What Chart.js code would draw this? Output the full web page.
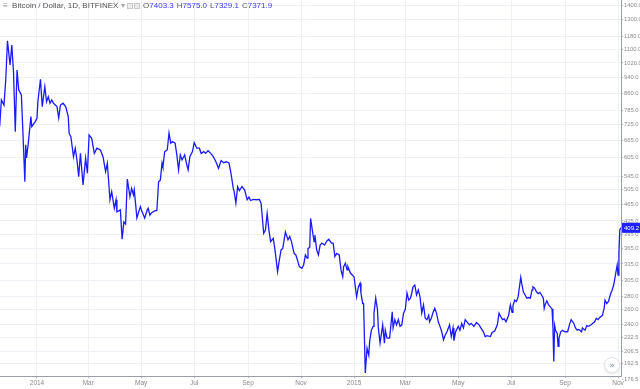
<!DOCTYPE html>
<html lang="en">
<head>
<meta charset="UTF-8" />
<title>Bitcoin / Dollar, 1D, BITFINEX</title>
<script src="https://cdn.jsdelivr.net/npm/chart.js"></script>
<style>
  * { box-sizing: border-box; margin: 0; padding: 0; }
  body { background: #fff; }
  .wrap { position: relative; width: 640px; height: 389px; }
  .legend {
    position: absolute; left: 3px; top: 1px;
    font: 8px "Liberation Sans", Arial, sans-serif;
    color: #555; white-space: nowrap;
  }
  .legend .num { color: #3a3aff; margin-right: 3px; }
  .legend .box {
    display: inline-block; width: 6px; height: 6px;
    border: 1px solid #c8c8c8; background: #ececec;
    vertical-align: -1px; margin-right: 1px;
  }
  .scroll-btn {
    position: absolute; left: 604px; top: 357px;
    width: 16px; height: 16px; border-radius: 50%;
    background: #fff; border: 1px solid #e3e3e3;
    box-shadow: 0 1px 2px rgba(0,0,0,0.12);
    font: 9px "DejaVu Sans", sans-serif; color: #7a86a0;
    text-align: center; line-height: 14px;
  }
</style>
</head>
<body>
<div class="wrap">
  <canvas id="chart" width="640" height="389"></canvas>
  <div class="legend">
    <span style="color:#999">≡</span>&nbsp; Bitcoin / Dollar, 1D, BITFINEX <span style="color:#aaa">▾</span>
    <span class="box"></span><span class="box"></span>
    O<span class="num">7403.3</span>H<span class="num">7575.0</span>L<span class="num">7329.1</span>C<span class="num">7371.9</span>
  </div>
  <div class="scroll-btn">»</div>
</div>

<script>
  // days since 2014-01-01, daily close (USD)
  const days = [
    -43,-41,-38,-36,-34,-31,-29,-27,-25,-23,-21,-18,-16,-14,-13,-12,-10,-7,-6,-2,
    0,1,4,6,9,11,13,15,17,19,23,25,27,30,33,36,37,39,42,44,46,48,50,53,56,58,60,63,66,69,
    73,76,79,81,84,86,89,91,92,96,98,100,102,104,
    107,109,111,112,115,119,121,124,127,128,130,132,136,138,140,142,144,145,147,150,
    152,154,156,159,161,163,165,167,170,172,174,176,179,181,184,187,189,192,194,197,
    200,203,206,209,212,215,218,221,223,226,227,229,231,233,236,239,242,244,246,249,253,
    256,258,261,263,265,267,269,272,274,277,279,281,283,286,289,291,293,296,298,300,
    302,305,307,309,311,312,314,315,317,319,320,322,324,326,328,331,334,336,339,341,
    343,345,348,350,352,353,355,357,358,361,363,365,368,370,372,373,375,376,378,380,
    382,383,385,387,388,390,392,393,
    395,398,400,401,403,406,409,410,412,414,416,418,420,422,424,426,428,430,431,433,
    435,437,439,441,443,445,447,449,451,452,454,456,458,460,462,464,466,468,470,472,
    475,477,479,480,482,485,487,489,491,493,495,498,500,503,506,509,511,514,516,518,
    522,524,527,530,532,534,536,538,540,543,545,547,
    548,550,552,554,555,557,558,560,562,564,566,568,570,571,573,575,577,579,581,583,
    584,585,587,589,591,593,594,595,596,597,599,600,601,603,605,608,611,613,615,618,
    620,622,624,627,628,631,633,635,638,640,642,644,646,648,651,653,654,656,658,660,
    662,664,666,668,669,670,671,672
  ];
  const closes = [
    717,831,808,928,1154,1009,1127,965,697,981,878,854,678,528,648,603,655,758,717,737,
    752,823,932,801,894,823,846,816,831,816,801,752,808,816,801,758,691,678,607,636,596,543,618,519,602,554,684,672,618,636,
    630,607,559,585,478,500,456,478,447,452,384,423,418,536,
    486,509,491,505,432,460,447,432,452,456,439,445,450,450,528,533,586,574,624,630,
    692,654,660,654,613,564,613,596,613,586,564,607,624,656,636,636,618,624,618,627,
    618,607,590,569,594,587,590,586,559,509,500,469,514,503,514,505,478,485,476,479,478,
    479,469,397,404,443,404,379,386,362,321,342,362,365,400,383,390,379,355,352,342,
    330,327,333,352,346,365,367,431,404,379,393,362,352,372,376,372,381,384,376,376,
    349,355,352,324,312,330,336,324,330,318,315,312,279,295,301,285,269,269,183,210,
    202,218,232,237,255,277,260,235,
    216,239,216,232,222,222,257,235,246,239,246,237,239,255,260,285,274,277,282,295,
    298,282,290,279,255,267,248,246,252,243,248,256,262,255,243,237,230,220,226,230,
    239,224,235,219,230,237,232,241,235,246,243,239,241,237,242,239,235,230,224,225,
    224,229,231,239,255,250,246,247,243,252,267,256,
    266,274,272,279,290,311,301,287,282,277,278,277,290,295,293,287,284,286,282,277,
    262,267,273,267,264,261,237,195,238,232,228,212,222,230,232,230,230,239,246,241,
    235,232,233,230,235,232,238,237,239,241,243,248,246,249,252,262,274,269,272,282,
    289,298,315,333,315,355,404,409.2
  ];

  const monthTickDays = [0, 59, 120, 181, 243, 304, 365, 424, 485, 546, 608, 669];
  const monthTickLabels = ['2014', 'Mar', 'May', 'Jul', 'Sep', 'Nov', '2015', 'Mar', 'May', 'Jul', 'Sep', 'Nov'];
  const priceTicks = [1400, 1300, 1180, 1100, 1020, 940, 860, 785, 725, 665, 605, 545, 505,
                      465, 425, 395, 365, 335, 305, 280, 260, 240, 222.5, 206.5, 192.5, 176.5];

  const FONT = '"Liberation Sans", Arial, sans-serif';
  const gridColor = '#eef1f6';
  const axisColor = '#9a9ea6';
  const labelColor = '#8a8a8a';

  // blue tag with last close on the price axis
  const lastPriceTag = {
    id: 'lastPriceTag',
    afterDraw(chart) {
      const ys = chart.scales.y;
      const last = closes[closes.length - 1];
      const py = ys.getPixelForValue(last);
      const ctx = chart.ctx;
      ctx.save();
      ctx.fillStyle = '#1f1fff';
      ctx.fillRect(ys.left + 1, py - 5, ys.width, 10);
      ctx.fillStyle = '#fff';
      ctx.font = '6px ' + FONT;
      ctx.textBaseline = 'middle';
      ctx.fillText(last.toFixed(1), ys.left + 3, py + 0.5);
      ctx.restore();
    }
  };

  new Chart(document.getElementById('chart'), {
    type: 'line',
    data: {
      datasets: [{
        data: days.map((d, i) => ({ x: d, y: closes[i] })),
        borderColor: '#1a1aff',
        borderWidth: 1.3,
        pointRadius: 0,
        tension: 0
      }]
    },
    options: {
      responsive: false,
      animation: false,
      devicePixelRatio: 1,
      layout: { padding: 0 },
      plugins: { legend: { display: false }, tooltip: { enabled: false } },
      scales: {
        x: {
          type: 'linear',
          min: -42.6,
          max: 672.4,
          afterBuildTicks: s => { s.ticks = monthTickDays.map(v => ({ value: v })); },
          afterFit: s => { s.height = 13; s.paddingLeft = 0; s.paddingRight = 0; },
          ticks: {
            autoSkip: false, maxRotation: 0, padding: 1,
            color: labelColor, font: { family: FONT, size: 6.5 },
            callback: (v, i) => monthTickLabels[i]
          },
          grid: { color: gridColor, tickLength: 2, tickColor: '#b5b5b5' },
          border: { color: axisColor }
        },
        y: {
          type: 'logarithmic',
          position: 'right',
          min: 180,
          max: 1446,
          afterBuildTicks: s => { s.ticks = priceTicks.map(v => ({ value: v })); },
          afterFit: s => { s.width = 19; s.paddingTop = 0; s.paddingBottom = 0; },
          ticks: {
            autoSkip: false, padding: 1,
            color: labelColor, font: { family: FONT, size: 5.8 },
            callback: v => Number(v).toFixed(1)
          },
          grid: {
            color: c => (c.tick && c.tick.value < 180) ? 'rgba(0,0,0,0)' : gridColor,
            tickLength: 2, tickColor: '#b5b5b5'
          },
          border: { color: axisColor }
        }
      }
    },
    plugins: [lastPriceTag]
  });
</script>
</body>
</html>
